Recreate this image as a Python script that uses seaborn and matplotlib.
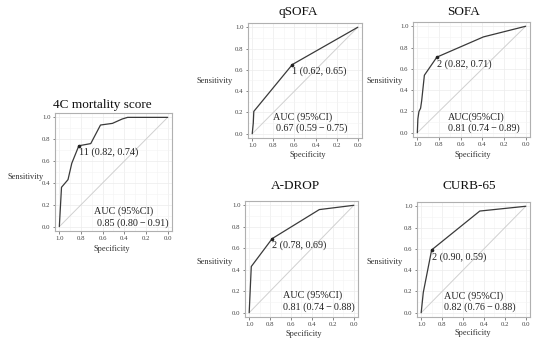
import numpy as np
import pandas as pd
import matplotlib
matplotlib.use("Agg")
import matplotlib.pyplot as plt
import seaborn as sns

W, H = 550, 341

# ROC points (specificity, sensitivity)
fourc_spec = [1.0, 0.98, 0.92, 0.885, 0.82, 0.71, 0.62, 0.51, 0.42, 0.37, 0.0]
fourc_sens = [0.0, 0.36, 0.43, 0.58, 0.74, 0.76, 0.93, 0.945, 0.985, 1.0, 1.0]
qsofa_spec = [1.0, 0.99, 0.985, 0.62, 0.0]
qsofa_sens = [0.0, 0.1, 0.21, 0.65, 1.0]
sofa_spec = [1.0, 0.995, 0.985, 0.97, 0.96, 0.935, 0.82, 0.39, 0.0]
sofa_sens = [0.0, 0.13, 0.2, 0.23, 0.3, 0.54, 0.71, 0.9, 1.0]
adrop_spec = [1.0, 0.98, 0.78, 0.33, 0.0]
adrop_sens = [0.0, 0.43, 0.69, 0.96, 1.0]
curb_spec = [1.0, 0.98, 0.90, 0.44, 0.0]
curb_sens = [0.0, 0.19, 0.59, 0.955, 1.0]

titles = ["4C mortality score", "qSOFA", "SOFA", "A-DROP", "CURB-65"]
cut_labels = ["11 (0.82, 0.74)", "1 (0.62, 0.65)", "2 (0.82, 0.71)",
              "2 (0.78, 0.69)", "2 (0.90, 0.59)"]
cut_points = [(0.82, 0.74), (0.62, 0.65), (0.82, 0.71), (0.78, 0.69), (0.90, 0.59)]
auc_head = ["AUC (95%CI)", "AUC (95%CI)", "AUC(95%CI)", "AUC (95%CI)", "AUC (95%CI)"]
auc_vals = ["0.85 (0.80\u2009\u2212\u20090.91)", "0.67 (0.59\u2009\u2212\u20090.75)",
            "0.81 (0.74\u2009\u2212\u20090.89)", "0.81 (0.74\u2009\u2212\u20090.88)",
            "0.82 (0.76\u2009\u2212\u20090.88)"]
curves = [(fourc_spec, fourc_sens), (qsofa_spec, qsofa_sens), (sofa_spec, sofa_sens),
          (adrop_spec, adrop_sens), (curb_spec, curb_sens)]

# layout in pixels: box (left, top, width, height), title, ylabel, xlabel centres, auc text
boxes = [(55, 113, 117, 118), (248, 23, 114, 115), (413, 22, 117, 115),
         (245, 201, 113, 116), (417, 202, 113, 115)]
title_pos = [(102, 105), (298, 12), (464, 12), (295, 186), (469, 186)]
ylab_pos = [(26, 177), (215, 81), (385, 81), (215, 262), (385, 262)]
xlab_pos = [(112, 249), (308, 155), (473, 155), (304, 334), (473, 333)]
auc_pos = [((0.33, 0.17), (0.36, 0.068)), ((0.22, 0.18), (0.245, 0.087)),
           ((0.30, 0.174), (0.30, 0.078)), ((0.336, 0.19), (0.336, 0.086)),
           ((0.24, 0.183), (0.24, 0.087))]

sns.set_theme(style="white")
plt.rcParams['font.family'] = ['Liberation Serif', 'DejaVu Serif']

fig = plt.figure(figsize=(W / 100, H / 100), dpi=100)


def fx(x):
    return x / W


def fy(y):
    return 1 - y / H


for i in range(5):
    l, t, w, h = boxes[i]
    ax = fig.add_axes([fx(l), fy(t + h), w / W, h / H])
    spec, sens = curves[i]
    df = pd.DataFrame({"Specificity": spec, "Sensitivity": sens})
    ax.plot([1, 0], [0, 1], color="#d0d0d0", lw=0.7, zorder=1)
    sns.lineplot(data=df, x="Specificity", y="Sensitivity", sort=False,
                 estimator=None, color="#3a3a3a", lw=0.9, ax=ax, zorder=3)
    cx, cy = cut_points[i]
    ax.plot([cx], [cy], marker="o", ms=1.6, color="#222222", zorder=4)
    ax.annotate(cut_labels[i], (cx, cy), xytext=(0, -1.5), textcoords="offset points",
                ha="left", va="top", fontsize=7.3, color="#222222")
    (x1, y1), (x2, y2) = auc_pos[i]
    ax.text(x1, y1, auc_head[i], transform=ax.transAxes, ha="left", va="center",
            fontsize=7.3, color="#222222")
    ax.text(x2, y2, auc_vals[i], transform=ax.transAxes, ha="left", va="center",
            fontsize=7.3, color="#222222")

    ax.set_xlim(1.04, -0.04)
    ax.set_ylim(-0.04, 1.04)
    ticks = [0.0, 0.2, 0.4, 0.6, 0.8, 1.0]
    ax.set_xticks(ticks)
    ax.set_yticks(ticks)
    ax.set_xticks(np.arange(0.1, 1.0, 0.2), minor=True)
    ax.set_yticks(np.arange(0.1, 1.0, 0.2), minor=True)
    ax.set_xticklabels([f"{v:.1f}" for v in ticks])
    ax.set_yticklabels([f"{v:.1f}" for v in ticks])
    ax.grid(True, which="major", color="#ececec", lw=0.5)
    ax.grid(True, which="minor", color="#f4f4f4", lw=0.4)
    ax.tick_params(axis="both", which="major", labelsize=4.9, length=1.8, width=0.5,
                   color="#555555", labelcolor="#444444", pad=1.5, bottom=True, left=True)
    ax.tick_params(axis="both", which="minor", length=0)
    ax.set_xlabel("")
    ax.set_ylabel("")
    for s in ax.spines.values():
        s.set_color("#b0b0b0")
        s.set_linewidth(0.8)

    tx, ty = title_pos[i]
    fig.text(fx(tx), fy(ty), titles[i], ha="center", va="center", fontsize=9.5, color="#111111")
    yx, yy = ylab_pos[i]
    fig.text(fx(yx), fy(yy), "Sensitivity", ha="center", va="center", fontsize=6, color="#333333")
    xx, xy = xlab_pos[i]
    fig.text(fx(xx), fy(xy), "Specificity", ha="center", va="center", fontsize=6, color="#333333")

fig.savefig("out.png", dpi=100)
